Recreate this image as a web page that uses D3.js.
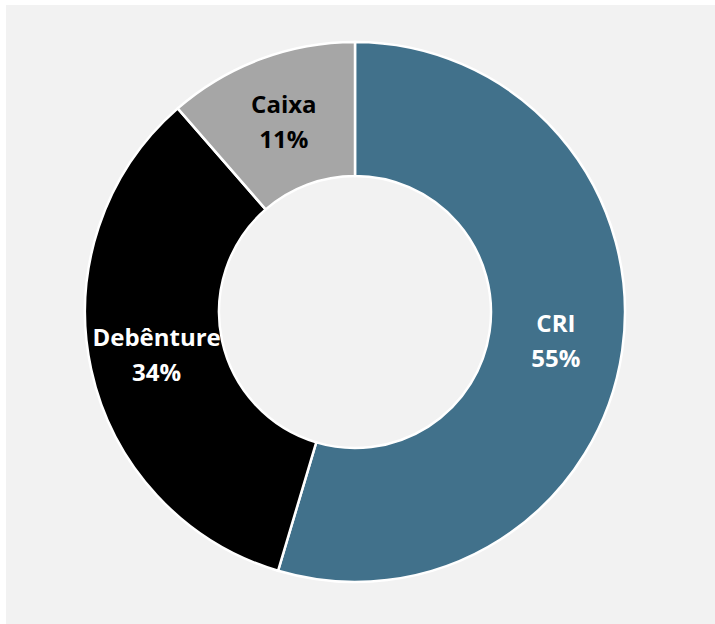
<!DOCTYPE html>
<html>
<head>
<meta charset="utf-8">
<script src="https://cdn.jsdelivr.net/npm/d3@7/dist/d3.min.js"></script>
<style>
html,body{margin:0;padding:0;background:#ffffff;}
svg{display:block;}
</style>
</head>
<body>
<svg id="chart" width="715" height="624"></svg>
<script>
const categories = ["CRI", "Debênture", "Caixa"];
const values = [54.6, 34.0, 11.4];
const colors = ["#41718b", "#000000", "#a6a6a6"];
const textColors = ["#ffffff", "#ffffff", "#000000"];

const svg = d3.select("#chart");
svg.append("rect").attr("x", 6).attr("y", 5).attr("width", 709).attr("height", 619).attr("fill", "#f2f2f2");

const cx = 355, cy = 312, rOuter = 270, rInner = 136;
const data = categories.map((c, i) => ({cat: c, value: values[i], color: colors[i], tc: textColors[i]}));
const pie = d3.pie().value(d => d.value).sort(null);
const arc = d3.arc().innerRadius(rInner).outerRadius(rOuter);
const total = d3.sum(values);

const g = svg.append("g").attr("transform", `translate(${cx},${cy})`);
const arcs = pie(data);
g.selectAll("path").data(arcs).join("path")
  .attr("d", arc)
  .attr("fill", d => d.data.color)
  .attr("stroke", "#ffffff")
  .attr("stroke-width", 2.5)
  .attr("stroke-linejoin", "miter");

const labels = g.selectAll("text").data(arcs).join("text")
  .attr("transform", d => `translate(${arc.centroid(d)})`)
  .attr("text-anchor", "middle")
  .attr("font-family", "'Open Sans', sans-serif")
  .attr("font-weight", "bold")
  .attr("font-size", 24)
  .attr("fill", d => d.data.tc);
labels.append("tspan").attr("x", 0).attr("y", -9).text(d => d.data.cat);
labels.append("tspan").attr("x", 0).attr("y", 26).text(d => Math.round(d.data.value / total * 100) + "%");
</script>
</body>
</html>
